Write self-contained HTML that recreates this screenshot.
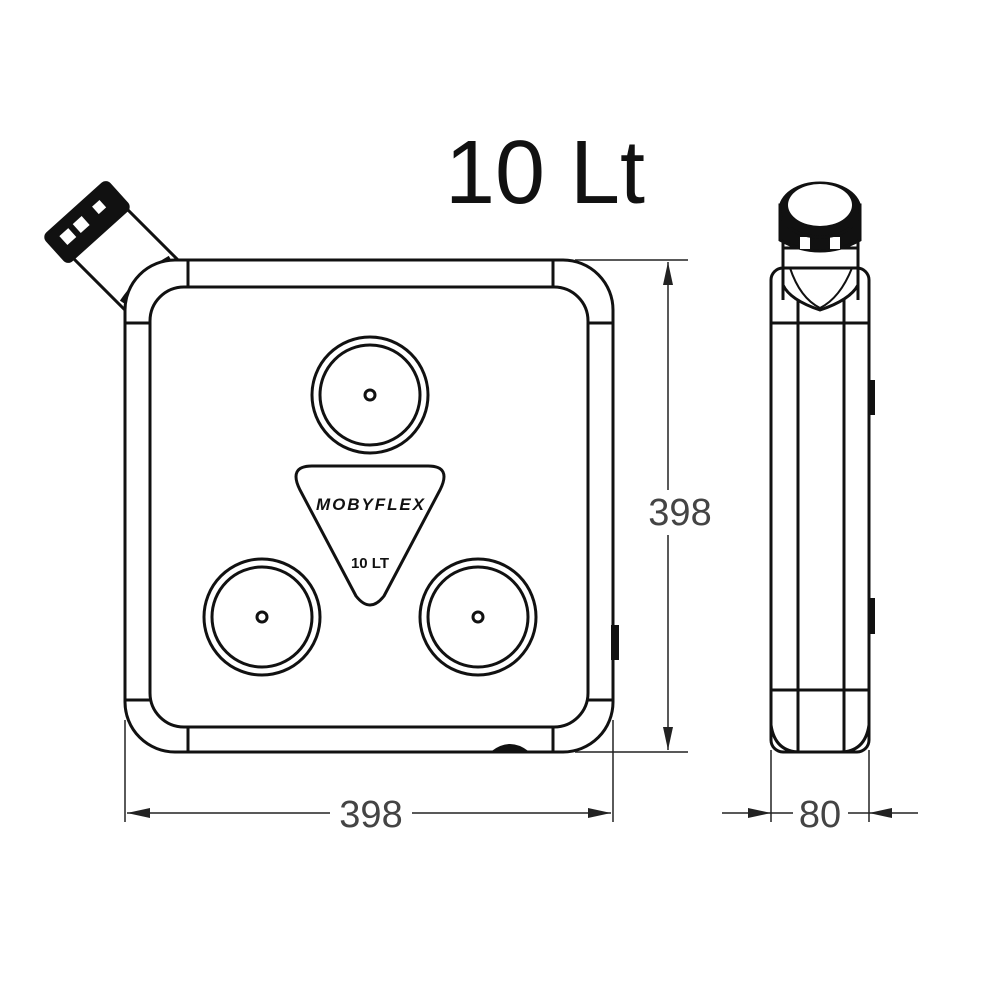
<!DOCTYPE html>
<html><head><style>body{margin:0;background:#fff}svg{display:block}</style></head><body>
<svg width="1000" height="1000" viewBox="0 0 1000 1000" xmlns="http://www.w3.org/2000/svg" fill="none" stroke="#111" stroke-width="3">
<!-- title -->
<text x="445" y="203" font-family="Liberation Sans, sans-serif" font-size="90" fill="#111" stroke="none" textLength="200" lengthAdjust="spacingAndGlyphs">10 Lt</text>
<!-- front neck + cap -->
<polygon points="70,255 123,205 178,260 125,310" fill="#fff"/>
<path d="M122,302 Q140,275 170,258" stroke-width="5"/>
<path d="M130,308 Q148,282 178,265" stroke-width="2"/>
<g transform="translate(87,222) rotate(-42)">
<rect x="-42" y="-18" width="84" height="36" rx="5" fill="#111"/>
<rect x="-30" y="-8" width="12" height="12" fill="#fff" stroke="none"/>
<rect x="-12" y="-8" width="12" height="12" fill="#fff" stroke="none"/>
<rect x="14" y="-8" width="10" height="10" fill="#fff" stroke="none"/>
</g>
<!-- front body -->
<rect x="125" y="260" width="488" height="492" rx="50" fill="#fff"/>
<rect x="150" y="287" width="438" height="440" rx="34"/>
<line x1="188" y1="260" x2="188" y2="287"/><line x1="553" y1="260" x2="553" y2="287"/>
<line x1="188" y1="727" x2="188" y2="752"/><line x1="553" y1="727" x2="553" y2="752"/>
<line x1="125" y1="323" x2="150" y2="323"/><line x1="125" y1="700" x2="150" y2="700"/>
<line x1="588" y1="323" x2="613" y2="323"/><line x1="588" y1="700" x2="613" y2="700"/>
<rect x="611" y="625" width="8" height="35" fill="#111" stroke="none"/>
<path d="M492,752 Q510,738 528,752" fill="#111" stroke-width="2"/>
<!-- circles -->
<g><circle cx="370" cy="395" r="58"/><circle cx="370" cy="395" r="50"/><circle cx="370" cy="395" r="5"/></g>
<g><circle cx="262" cy="617" r="58"/><circle cx="262" cy="617" r="50"/><circle cx="262" cy="617" r="5"/></g>
<g><circle cx="478" cy="617" r="58"/><circle cx="478" cy="617" r="50"/><circle cx="478" cy="617" r="5"/></g>
<!-- triangle -->
<path d="M312,466 L428,466 Q452,466 440,490 L384,596 Q370,614 356,596 L300,490 Q288,466 312,466 Z" fill="#fff"/>
<text x="370" y="510" text-anchor="middle" font-family="Liberation Sans, sans-serif" font-weight="bold" font-style="italic" font-size="17" fill="#111" stroke="none" textLength="108">MOBYFLEX</text>
<text x="370" y="568" text-anchor="middle" font-family="Liberation Sans, sans-serif" font-weight="bold" font-size="15" fill="#111" stroke="none">10 LT</text>
<!-- dimensions front -->
<g stroke-width="1.5" stroke="#222">
<line x1="575" y1="260" x2="688" y2="260"/><line x1="575" y1="752" x2="688" y2="752"/>
<line x1="668" y1="262" x2="668" y2="490"/><line x1="668" y1="535" x2="668" y2="750"/>
<line x1="125" y1="720" x2="125" y2="822"/><line x1="613" y1="720" x2="613" y2="822"/>
<line x1="127" y1="813" x2="330" y2="813"/><line x1="412" y1="813" x2="611" y2="813"/>
</g>
<g fill="#222" stroke="none">
<polygon points="668,262 663,285 673,285"/><polygon points="668,750 663,727 673,727"/>
<polygon points="127,813 150,808 150,818"/><polygon points="611,813 588,808 588,818"/>
</g>
<text x="680" y="525" text-anchor="middle" font-family="Liberation Sans, sans-serif" font-size="38" fill="#444" stroke="none">398</text>
<text x="371" y="827" text-anchor="middle" font-family="Liberation Sans, sans-serif" font-size="38" fill="#444" stroke="none">398</text>
<!-- side view -->
<path d="M783,300 L783,248 L858,248 L858,300" fill="#fff"/>
<rect x="771" y="268" width="98" height="484" rx="12" fill="#fff"/>
<path d="M771,700 L771,725 Q775,752 800,752 L840,752 Q865,752 869,725 L869,700"/>
<line x1="798" y1="300" x2="798" y2="752"/><line x1="844" y1="300" x2="844" y2="752"/>
<line x1="771" y1="323" x2="869" y2="323"/><line x1="771" y1="690" x2="869" y2="690"/>
<path d="M783,285 Q790,300 820,310 Q850,300 858,285"/>
<path d="M790,268 Q800,298 820,308 Q840,298 852,268" stroke-width="2"/>
<line x1="783" y1="240" x2="783" y2="300"/><line x1="858" y1="240" x2="858" y2="300"/>
<rect x="868" y="380" width="7" height="35" fill="#111" stroke="none"/>
<rect x="868" y="598" width="7" height="36" fill="#111" stroke="none"/>
<!-- side cap -->
<path d="M780,205 L780,240 Q820,262 860,240 L860,205 Z" fill="#111"/>
<rect x="800" y="237" width="10" height="12" fill="#fff" stroke="none"/>
<rect x="830" y="237" width="10" height="12" fill="#fff" stroke="none"/>
<ellipse cx="820" cy="210" rx="40" ry="27" fill="#111"/>
<ellipse cx="820" cy="205" rx="32" ry="21" fill="#fff" stroke="none"/>
<!-- side dimension -->
<g stroke-width="1.5" stroke="#222">
<line x1="771" y1="750" x2="771" y2="822"/><line x1="869" y1="750" x2="869" y2="822"/>
<line x1="722" y1="813" x2="793" y2="813"/><line x1="848" y1="813" x2="918" y2="813"/>
</g>
<g fill="#222" stroke="none">
<polygon points="771,813 748,808 748,818"/><polygon points="869,813 892,808 892,818"/>
</g>
<text x="820" y="827" text-anchor="middle" font-family="Liberation Sans, sans-serif" font-size="38" fill="#444" stroke="none">80</text>
</svg>
</body></html>
